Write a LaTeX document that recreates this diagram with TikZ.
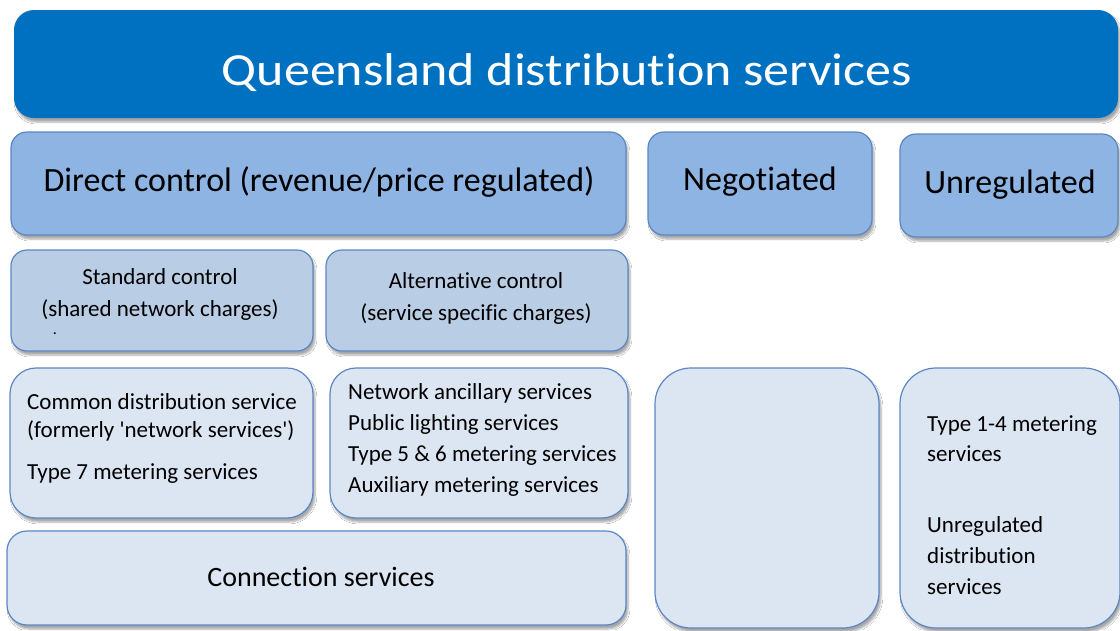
\documentclass[tikz,border=0pt]{standalone}
\usepackage{fontspec}
\usepackage{graphicx}
\setmainfont{Carlito}[Ligatures={TeXOff,NoCommon}]
\usetikzlibrary{shadows.blur}
\definecolor{titleblue}{HTML}{0070C0}
\definecolor{lvltwo}{HTML}{8EB4E3}
\definecolor{lvlthree}{HTML}{B9CDE5}
\definecolor{lvlfour}{HTML}{DCE6F2}
\definecolor{edgeblue}{HTML}{5A87C4}
\tikzset{
  box/.style={rounded corners=#1, draw=edgeblue, line width=1.2pt, inner sep=0pt,
    blur shadow={shadow xshift=2pt, shadow yshift=-4pt, shadow opacity=35, shadow blur steps=6}},
  box/.default=16pt,
  bigtxt/.style={font=\fontsize{34}{40}\selectfont, text=black},
  midtxt/.style={font=\fontsize{23}{32}\selectfont, text=black, align=center},
  smalltxt/.style={font=\fontsize{23}{31}\selectfont, text=black, align=left, inner sep=0pt, anchor=base west},
}
\begin{document}
\begin{tikzpicture}[x=1pt,y=-1pt]
\useasboundingbox[fill=white] (0,0) rectangle (1120,630);
% title
\node[box=20pt, draw=none, fill=titleblue, minimum width=1104, minimum height=108] (title) at (566,64) {};
\node[font=\fontsize{46}{52}\selectfont, text=white, inner sep=0pt, anchor=base] (titletxt) at (567,85) {\scalebox{1.13}[1]{Queensland distribution services}};
% level 2
\node[box, fill=lvltwo, minimum width=615, minimum height=103] (direct) at (318.5,183.5) {};
\node[bigtxt] (directtxt) at (319,182) {Direct control (revenue/price regulated)};
\node[box, fill=lvltwo, minimum width=224, minimum height=103] (neg) at (760,183.5) {};
\node[bigtxt] (negtxt) at (760,182) {Negotiated};
\node[box, fill=lvltwo, minimum width=218, minimum height=103] (unreg) at (1009,185.5) {};
\node[bigtxt] (unregtxt) at (1010,185) {Unregulated};
% level 3
\node[box, fill=lvlthree, minimum width=302, minimum height=101] (std) at (162,300.5) {};
\node[midtxt] (stdtxt) at (160,294) {Standard control\\(shared network charges)};
\node[font=\fontsize{16}{16}\selectfont, inner sep=0pt] (stddot) at (55,334) {.};
\node[box, fill=lvlthree, minimum width=302, minimum height=101] (alt) at (477,300.5) {};
\node[midtxt] (alttxt) at (476,298) {Alternative control\\(service specific charges)};
% level 4
\node[box=26pt, fill=lvlfour, minimum width=303, minimum height=150] (common) at (161.5,443) {};
\node[smalltxt, font=\fontsize{23}{28}\selectfont] (commontxt) at (27,437) {Common distribution service\\(formerly 'network services')};
\node[smalltxt] (type7) at (27,479) {Type 7 metering services};
\node[box=26pt, fill=lvlfour, minimum width=298, minimum height=150] (anc) at (479,443) {};
\node[smalltxt] (anctxt) at (348,492) {Network ancillary services\\Public lighting services\\Type 5 \& 6 metering services\\Auxiliary metering services};
\node[box=20pt, fill=lvlfour, minimum width=619, minimum height=94] (conn) at (316.5,578) {};
\node[font=\fontsize{28}{32}\selectfont, text=black] (conntxt) at (321,577) {Connection services};
\node[box=36pt, fill=lvlfour, minimum width=224, minimum height=260] (negbox) at (767,498) {};
\node[box=36pt, fill=lvlfour, minimum width=220, minimum height=260] (unregbox) at (1010,498) {};
\node[smalltxt, font=\fontsize{23}{30}\selectfont] (type14) at (927,461) {Type 1-4 metering\\services};
\node[smalltxt, font=\fontsize{23}{31}\selectfont] (unregdist) at (927,594) {Unregulated\\distribution\\services};
\end{tikzpicture}
\end{document}
